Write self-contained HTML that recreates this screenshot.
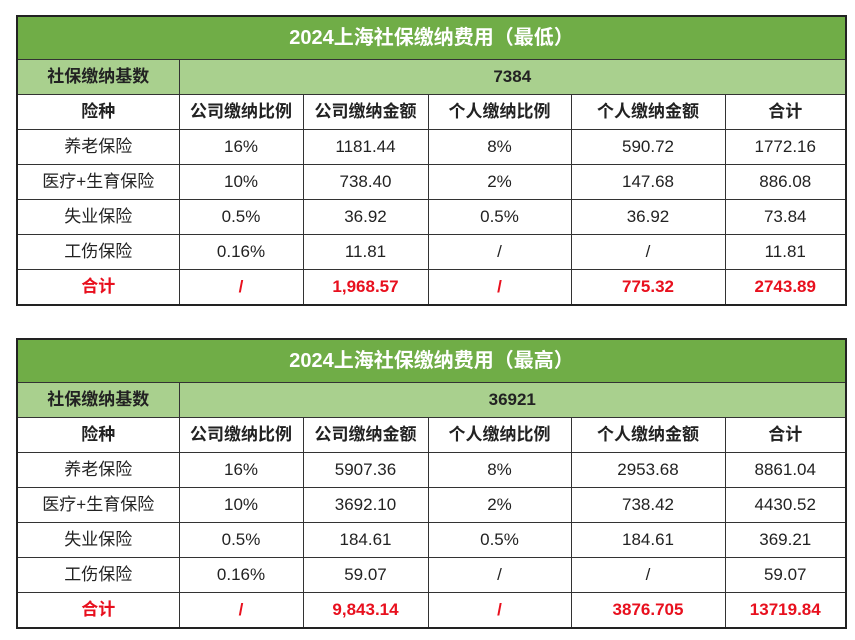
<!DOCTYPE html>
<html><head><meta charset="utf-8"><style>
body{margin:0;width:855px;height:640px;background:#fff;position:relative;font-family:"Liberation Sans","Noto Sans CJK SC",sans-serif;overflow:hidden}
table{position:absolute;left:16px;width:829px;border-collapse:collapse;table-layout:fixed;border:2px solid #222}
td{border:1px solid #333;text-align:center;font-size:17px;color:#222;height:34px;padding:0;line-height:34px}
td.t{background:#70AD47;color:#fff;font-weight:bold;font-size:20px;height:42px}
tr.b td{background:#A9D08E;font-weight:bold}
tr.h td{font-weight:bold}
tr.s td{color:#e8101e;font-weight:bold}
</style></head><body>
<table style="top:15px">
<colgroup><col style="width:162px"><col style="width:124px"><col style="width:125px"><col style="width:143px"><col style="width:154px"><col style="width:121px"></colgroup>
<tr><td class="t" colspan="6">2024上海社保缴纳费用（最低）</td></tr>
<tr class="b"><td>社保缴纳基数</td><td colspan="5">7384</td></tr>
<tr class="h"><td>险种</td><td>公司缴纳比例</td><td>公司缴纳金额</td><td>个人缴纳比例</td><td>个人缴纳金额</td><td>合计</td></tr>
<tr><td>养老保险</td><td>16%</td><td>1181.44</td><td>8%</td><td>590.72</td><td>1772.16</td></tr>
<tr><td>医疗+生育保险</td><td>10%</td><td>738.40</td><td>2%</td><td>147.68</td><td>886.08</td></tr>
<tr><td>失业保险</td><td>0.5%</td><td>36.92</td><td>0.5%</td><td>36.92</td><td>73.84</td></tr>
<tr><td>工伤保险</td><td>0.16%</td><td>11.81</td><td>/</td><td>/</td><td>11.81</td></tr>
<tr class="s"><td>合计</td><td>/</td><td>1,968.57</td><td>/</td><td>775.32</td><td>2743.89</td></tr>
</table>
<table style="top:338px">
<colgroup><col style="width:162px"><col style="width:124px"><col style="width:125px"><col style="width:143px"><col style="width:154px"><col style="width:121px"></colgroup>
<tr><td class="t" colspan="6">2024上海社保缴纳费用（最高）</td></tr>
<tr class="b"><td>社保缴纳基数</td><td colspan="5">36921</td></tr>
<tr class="h"><td>险种</td><td>公司缴纳比例</td><td>公司缴纳金额</td><td>个人缴纳比例</td><td>个人缴纳金额</td><td>合计</td></tr>
<tr><td>养老保险</td><td>16%</td><td>5907.36</td><td>8%</td><td>2953.68</td><td>8861.04</td></tr>
<tr><td>医疗+生育保险</td><td>10%</td><td>3692.10</td><td>2%</td><td>738.42</td><td>4430.52</td></tr>
<tr><td>失业保险</td><td>0.5%</td><td>184.61</td><td>0.5%</td><td>184.61</td><td>369.21</td></tr>
<tr><td>工伤保险</td><td>0.16%</td><td>59.07</td><td>/</td><td>/</td><td>59.07</td></tr>
<tr class="s"><td>合计</td><td>/</td><td>9,843.14</td><td>/</td><td>3876.705</td><td>13719.84</td></tr>
</table>
</body></html>
